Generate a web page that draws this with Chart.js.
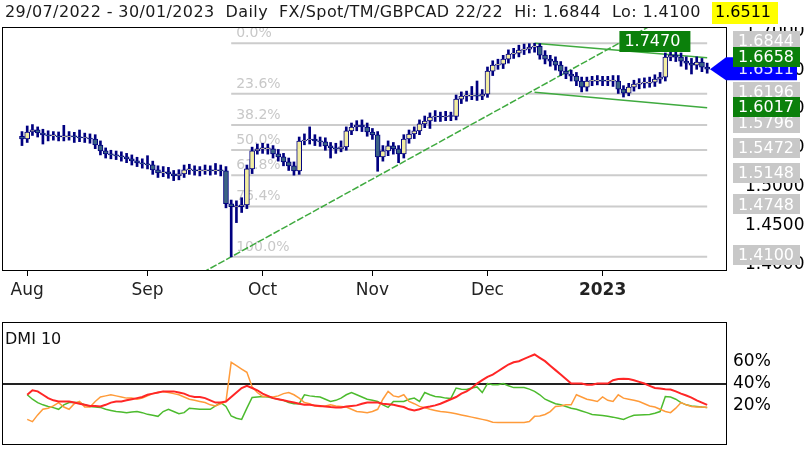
<!DOCTYPE html>
<html>
<head>
<meta charset="utf-8">
<script src="https://cdn.jsdelivr.net/npm/chart.js@4.4.1/dist/chart.umd.min.js"></script>
<style>
  body { margin: 0; background: #fff; width: 810px; height: 449px; overflow: hidden; position: relative; }
  #main { position: absolute; left: 0; top: 0; }
  #dmi { position: absolute; left: 0; top: 312px; }
</style>
</head>
<body>
<canvas id="main" width="810" height="312"></canvas>
<canvas id="dmi" width="810" height="137"></canvas>
<script>
// daily GBPCAD bars, 29/07/2022 .. 30/01/2023 (weekdays, index 0 = 29 Jul)
const opens = [
  1.5650,1.5615,1.5705,1.5731,1.5692,1.5667,1.5654,1.5654,1.5641,1.5641,
  1.5654,1.5641,1.5628,1.5628,1.5615,1.5538,1.5461,1.5423,1.5410,1.5397,
  1.5385,1.5359,1.5333,1.5308,1.5295,1.5282,1.5218,1.5179,1.5192,1.5167,
  1.5141,1.5167,1.5218,1.5218,1.5205,1.5205,1.5218,1.5205,1.5218,1.5205,
  1.4782,1.4744,1.4744,1.4769,1.5231,1.5461,1.5487,1.5487,1.5487,1.5423,
  1.5385,1.5320,1.5269,1.5205,1.5589,1.5602,1.5615,1.5589,1.5577,1.5526,
  1.5500,1.5487,1.5513,1.5718,1.5769,1.5795,1.5769,1.5705,1.5667,1.5385,
  1.5461,1.5526,1.5487,1.5423,1.5615,1.5679,1.5718,1.5808,1.5846,1.5897,
  1.5910,1.5897,1.5910,1.5904,1.6128,1.6166,1.6166,1.6179,1.6166,1.6192,
  1.6487,1.6564,1.6577,1.6641,1.6705,1.6718,1.6756,1.6769,1.6795,1.6807,
  1.6692,1.6641,1.6615,1.6564,1.6487,1.6448,1.6423,1.6359,1.6282,1.6359,
  1.6359,1.6372,1.6359,1.6359,1.6359,1.6256,1.6205,1.6282,1.6320,1.6333,
  1.6333,1.6346,1.6384,1.6410,1.6666,1.6692,1.6666,1.6615,1.6589,1.6564,
  1.6602,1.6538
];
const closes = [
  1.5615,1.5705,1.5731,1.5692,1.5667,1.5654,1.5654,1.5641,1.5641,1.5654,
  1.5641,1.5628,1.5628,1.5615,1.5538,1.5461,1.5423,1.5410,1.5397,1.5385,
  1.5359,1.5333,1.5308,1.5295,1.5282,1.5218,1.5179,1.5192,1.5167,1.5141,
  1.5167,1.5218,1.5218,1.5205,1.5205,1.5218,1.5205,1.5218,1.5205,1.4782,
  1.4744,1.4744,1.4769,1.5231,1.5461,1.5487,1.5487,1.5487,1.5423,1.5385,
  1.5320,1.5269,1.5205,1.5589,1.5602,1.5615,1.5589,1.5577,1.5526,1.5500,
  1.5487,1.5513,1.5718,1.5769,1.5795,1.5769,1.5705,1.5667,1.5385,1.5461,
  1.5526,1.5487,1.5423,1.5615,1.5679,1.5718,1.5808,1.5846,1.5897,1.5910,
  1.5897,1.5910,1.5904,1.6128,1.6166,1.6166,1.6179,1.6166,1.6192,1.6487,
  1.6564,1.6577,1.6641,1.6705,1.6718,1.6756,1.6769,1.6795,1.6807,1.6692,
  1.6641,1.6615,1.6564,1.6487,1.6448,1.6423,1.6359,1.6282,1.6359,1.6359,
  1.6372,1.6359,1.6359,1.6359,1.6256,1.6205,1.6282,1.6320,1.6333,1.6333,
  1.6346,1.6384,1.6410,1.6666,1.6692,1.6666,1.6615,1.6589,1.6564,1.6602,
  1.6538,1.6511
];
const highs = [
  1.5710,1.5782,1.5800,1.5770,1.5740,1.5720,1.5710,1.5705,1.5790,1.5710,
  1.5700,1.5730,1.5690,1.5680,1.5670,1.5590,1.5500,1.5470,1.5460,1.5450,
  1.5430,1.5410,1.5380,1.5360,1.5400,1.5330,1.5270,1.5260,1.5250,1.5210,
  1.5220,1.5280,1.5290,1.5270,1.5260,1.5280,1.5270,1.5300,1.5280,1.5260,
  1.4830,1.4820,1.4860,1.5280,1.5510,1.5550,1.5560,1.5550,1.5530,1.5480,
  1.5430,1.5370,1.5320,1.5640,1.5680,1.5770,1.5670,1.5640,1.5630,1.5570,
  1.5560,1.5590,1.5770,1.5820,1.5850,1.5860,1.5820,1.5750,1.5710,1.5530,
  1.5590,1.5570,1.5530,1.5670,1.5730,1.5770,1.5860,1.5910,1.5950,1.5980,
  1.5960,1.5970,1.5960,1.6180,1.6220,1.6230,1.6290,1.6360,1.6250,1.6540,
  1.6620,1.6640,1.6690,1.6760,1.6780,1.6820,1.6835,1.6840,1.6844,1.6840,
  1.6750,1.6690,1.6670,1.6610,1.6540,1.6500,1.6470,1.6410,1.6410,1.6420,
  1.6430,1.6420,1.6420,1.6430,1.6430,1.6300,1.6330,1.6370,1.6390,1.6400,
  1.6410,1.6440,1.6470,1.6720,1.6760,1.6750,1.6720,1.6670,1.6650,1.6670,
  1.6650,1.6590
];
const lows = [
  1.5530,1.5570,1.5660,1.5640,1.5550,1.5590,1.5600,1.5590,1.5590,1.5600,
  1.5570,1.5580,1.5570,1.5560,1.5490,1.5410,1.5370,1.5360,1.5350,1.5330,
  1.5310,1.5280,1.5260,1.5240,1.5230,1.5160,1.5120,1.5130,1.5110,1.5080,
  1.5090,1.5120,1.5160,1.5150,1.5140,1.5160,1.5150,1.5160,1.5140,1.4730,
  1.4100,1.4540,1.4670,1.4720,1.5170,1.5420,1.5430,1.5420,1.5370,1.5330,
  1.5270,1.5210,1.5150,1.5160,1.5540,1.5550,1.5530,1.5520,1.5470,1.5370,
  1.5430,1.5450,1.5470,1.5670,1.5720,1.5710,1.5650,1.5610,1.5200,1.5330,
  1.5400,1.5420,1.5310,1.5370,1.5560,1.5620,1.5670,1.5760,1.5750,1.5840,
  1.5840,1.5850,1.5850,1.5860,1.6070,1.6100,1.6120,1.6110,1.6120,1.6150,
  1.6430,1.6510,1.6520,1.6590,1.6650,1.6670,1.6700,1.6720,1.6730,1.6640,
  1.6580,1.6550,1.6500,1.6430,1.6390,1.6360,1.6300,1.6220,1.6230,1.6300,
  1.6310,1.6300,1.6300,1.6290,1.6200,1.6154,1.6170,1.6230,1.6260,1.6270,
  1.6280,1.6290,1.6330,1.6360,1.6620,1.6610,1.6550,1.6510,1.6450,1.6510,
  1.6480,1.6460
];

// DMI 10 lines (percent)
const dmiRed = [
  null,30,34,33,30,27,25,24,24,24, 23,22,21,20,20,19.6,21,23,24,24,
  25,26,27,28,30,31,32,33,33,33, 32,31,29,28,28,27,25,23,23,24,
  28,32,36,38,36,34,31,29,27,26, 25,24,23,22,21,21,20.5,20,19.5,19,
  18.7,18.7,19.5,20,20.5,22,23,23,23,22, 21.5,21,20,19,17,16,17,18.7,19.5,20.5,
  22,24,26,28,31,33,36,40,43,46, 48,51,54,57,59,60,62,64,66,63,
  60,56,52,48,44,40,40,40,39,39, 40,40,40,43,44,44.4,44,43,41.5,40,
  38,36,35.5,35,34.7,33,31,29.3,27.5,25, 23,21
];
const dmiOrange = [
  null,8,6,12,17,18,20,23,19,17, 22,24,19,19,24,28,29,30,29,28,
  27,27,26,27,29,31,32,33,32,31, 30,28,26,25,24,23,21,20,22,24,
  59,56,53,50,37,32,28.4,28.4,28,29, 31,32,30,27,23,22,20,19.6,20,21,
  20,19.6,19,17,15,14.5,14,15,17,26, 33,29,28,30,24,22,19.6,18.5,17,16,
  15,14.5,14,13,12,11,10,9,8,7, 5.5,5.3,5.3,5.3,5.3,5.3,5.3,6,10.7,11,
  12.4,15,19.6,20,21,21,30,28,26,25, 24,28,25,24,30,27,26,25,24,22,
  20,19,17,15,14,18,23,21,19.6,19, 19,18.7
];
const dmiGreen = [
  null,30,26,23,21,19.5,18.5,17,21,23, 23,23,21,19.6,19,18.7,17,16,15,14.5,
  14,14.5,15,14,12.5,11.6,10.7,15,17,15, 13,14,18,17.5,17,17,17,20,23,19.6,
  11,9,8,18,27.6,28,28.4,28,27,26, 25,23,22,22,30,29,28.4,28,26,24,
  25,27,30,32,30,28,26,25,24,21, 18.7,24,24,24,26,27,24,32,30,28.4,
  28,27,26.7,36,35,34.7,36,37,32,40, 39,39,40,38,36.4,36.4,36.4,35,33,30,
  26,24,22,21,19.5,18,17,15.5,14,12.4, 12,11.5,10.7,10,9,8,10,11.6,12,12.2,
  12.4,13.5,15,28.4,28,26,23,21,20,19.5, 19,18.7
];

// axes
const monthIdx = [1, 24, 46, 67, 89, 111];
const monthLabels = ['Aug', 'Sep', 'Oct', 'Nov', 'Dec', '2023'];
const priceTicks = [1.40, 1.45, 1.50, 1.55, 1.60, 1.65, 1.70];
const dmiTicks = [20, 40, 60];

// fibonacci retracement from the 26/09 low to the 14/12 high
const fibLevels = [1.6844, 1.6196, 1.5796, 1.5472, 1.5148, 1.4748, 1.4100];
const fibNames = ['0.0%', '23.6%', '38.2%', '50.0%', '61.8%', '76.4%', '100.0%'];
const fibFrom = 40, fibTo = 131;

// trend lines [x index, price]
const trendUp = [[30, 1.3730], [131, 1.7470]];
const channelTop = [[98, 1.6844], [131, 1.6658]];
const channelBottom = [[98, 1.6215], [131, 1.6017]];

const header = '29/07/2022 - 30/01/2023  Daily  FX/Spot/TM/GBPCAD 22/22  Hi: 1.6844  Lo: 1.4100';
const lastPrice = 1.6511;

const FONT = 'DejaVu Sans';
const xMin = -3.82, xMax = 134.6;
const NAVY = '#000080';
const GREEN_TAG = '#0b800b';

function box(ctx, x, yc, w, h, bg, fg, text) {
    ctx.fillStyle = bg;
    ctx.fillRect(x, Math.round(yc - h / 2), w, h);
    ctx.fillStyle = fg;
    ctx.textBaseline = 'middle';
    ctx.fillText(text, x + 5, yc + 1);
}

const mainDeco = {
    id: 'mainDeco',
    beforeDatasetsDraw(chart) {
        const ctx = chart.ctx, xs = chart.scales.x, ys = chart.scales.y;
        ctx.save();
        ctx.font = '14px ' + FONT;
        ctx.fillStyle = '#c8c8c8';
        ctx.textBaseline = 'alphabetic';
        fibLevels.forEach((lv, i) => {
            ctx.fillText(fibNames[i], xs.getPixelForValue(fibFrom) + 5, ys.getPixelForValue(lv) - 6);
        });
        ctx.restore();
    },
    afterDraw(chart) {
        const ctx = chart.ctx, a = chart.chartArea, xs = chart.scales.x, ys = chart.scales.y;
        ctx.save();
        // hide axis label overflow above / below the plot
        ctx.fillStyle = '#fff';
        ctx.fillRect(a.right + 1, 0, chart.width - a.right, a.top);
        ctx.fillRect(a.right + 1, a.bottom + 1, chart.width - a.right, chart.height - a.bottom);

        ctx.strokeStyle = '#000';
        ctx.lineWidth = 1;
        ctx.strokeRect(a.left + 0.5, a.top + 0.5, a.right - a.left, a.bottom - a.top);

        ctx.font = '16px ' + FONT;
        // fib price tags
        fibLevels.forEach(lv => {
            box(ctx, a.right + 7, ys.getPixelForValue(lv) - 2, 67, 20, '#c8c8c8', '#fff', lv.toFixed(4));
        });
        // last price arrow
        const yc = ys.getPixelForValue(lastPrice);
        ctx.fillStyle = '#0000ff';
        ctx.beginPath();
        ctx.moveTo(a.right - 16, yc);
        ctx.lineTo(a.right, yc - 12);
        ctx.lineTo(a.right + 71, yc - 12);
        ctx.lineTo(a.right + 71, yc + 11);
        ctx.lineTo(a.right, yc + 11);
        ctx.closePath();
        ctx.fill();
        ctx.fillStyle = '#e8e8ff';
        ctx.textBaseline = 'middle';
        ctx.fillText(lastPrice.toFixed(4), a.right + 12, yc + 1);
        // channel tags
        [channelTop, channelBottom].forEach(ln => {
            const p = ln[1][1];
            box(ctx, a.right + 7, ys.getPixelForValue(p) - 1, 67, 20, GREEN_TAG, '#fff', p.toFixed(4));
        });
        // rising trend line tag, where the line leaves the top of the plot
        const x0 = xs.getPixelForValue(trendUp[0][0]), y0 = ys.getPixelForValue(trendUp[0][1]);
        const x1 = xs.getPixelForValue(trendUp[1][0]), y1 = ys.getPixelForValue(trendUp[1][1]);
        const xc = x0 + (a.top - y0) / (y1 - y0) * (x1 - x0);
        box(ctx, xc - 29, a.top + 14, 71, 21, GREEN_TAG, '#fff', trendUp[1][1].toFixed(4));

        // header line
        ctx.fillStyle = '#1a1a1a';
        ctx.textBaseline = 'middle';
        ctx.font = '16px ' + FONT;
        ctx.letterSpacing = '0.4px';
        ctx.fillText(header, 5, 13);
        ctx.fillStyle = '#ffff00';
        ctx.fillRect(712, 2, 66, 22);
        ctx.fillStyle = '#000';
        ctx.letterSpacing = '0px';
        ctx.fillText(lastPrice.toFixed(4), 715, 13);
        ctx.restore();
    }
};

const bodies = opens.map((o, i) => ({ x: i, y: [o, closes[i]] }));
const wicks = lows.map((l, i) => ({ x: i, y: [l, highs[i]] }));
const bodyColors = opens.map((o, i) => closes[i] >= o ? '#f3eea2' : '#3b6384');

function segment(pts) {
    return pts.map(p => ({ x: p[0], y: p[1] }));
}

const fibSets = fibLevels.map(lv => ({
    type: 'line',
    data: [{ x: fibFrom, y: lv }, { x: fibTo, y: lv }],
    borderColor: '#cccccc',
    borderWidth: 2,
    pointRadius: 0,
    order: 4
}));

const trendSets = [trendUp, channelTop, channelBottom].map((ln, k) => ({
    type: 'line',
    data: segment(ln),
    borderColor: '#3faa3f',
    borderWidth: 1.5,
    borderDash: k === 0 ? [7, 2] : [],
    pointRadius: 0,
    order: 3
}));

new Chart(document.getElementById('main'), {
    type: 'bar',
    data: {
        datasets: [
            {
                data: bodies,
                backgroundColor: bodyColors,
                borderColor: NAVY,
                borderWidth: 1,
                borderSkipped: false,
                barThickness: 5,
                minBarLength: 1,
                grouped: false,
                order: 0
            },
            {
                data: wicks,
                backgroundColor: NAVY,
                borderWidth: 0,
                barThickness: 2,
                grouped: false,
                order: 1
            }
        ].concat(trendSets, fibSets)
    },
    options: {
        responsive: false,
        animation: false,
        layout: { padding: { left: 2, top: 27, right: 0, bottom: 0 } },
        plugins: { legend: { display: false }, tooltip: { enabled: false } },
        scales: {
            x: {
                type: 'linear',
                min: xMin,
                max: xMax,
                offset: false,
                afterBuildTicks: axis => { axis.ticks = monthIdx.map(v => ({ value: v })); },
                afterFit: axis => { axis.height = 42; },
                grid: { offset: false, drawOnChartArea: false, drawTicks: true, tickLength: 6, color: '#000' },
                border: { display: false },
                ticks: {
                    autoSkip: false,
                    maxRotation: 0,
                    padding: 4,
                    color: '#222',
                    font: c => ({ family: FONT, size: 17, weight: monthLabels[c.index] === '2023' ? 'bold' : 'normal' }),
                    callback: (v, i) => monthLabels[i]
                }
            },
            y: {
                position: 'right',
                min: 1.3931,
                max: 1.7054,
                afterBuildTicks: axis => { axis.ticks = priceTicks.map(v => ({ value: v })); },
                afterFit: axis => { axis.width = 84; },
                grid: { display: false },
                border: { display: false },
                ticks: {
                    padding: 11,
                    color: '#000',
                    font: { family: FONT, size: 17 },
                    callback: v => v.toFixed(4)
                }
            }
        }
    },
    plugins: [mainDeco]
});

const dmiDeco = {
    id: 'dmiDeco',
    afterDraw(chart) {
        const ctx = chart.ctx, a = chart.chartArea;
        ctx.save();
        ctx.strokeStyle = '#000';
        ctx.lineWidth = 1;
        ctx.strokeRect(a.left + 0.5, a.top + 0.5, a.right - a.left, a.bottom - a.top);
        ctx.fillStyle = '#111';
        ctx.font = '16px ' + FONT;
        ctx.textBaseline = 'middle';
        ctx.fillText('DMI 10', a.left + 3, a.top + 18);
        ctx.restore();
    }
};

function dmiPoints(arr) {
    return arr.map((v, i) => ({ x: i, y: v }));
}

new Chart(document.getElementById('dmi'), {
    type: 'line',
    data: {
        datasets: [
            { data: dmiPoints(dmiRed), borderColor: '#ff2626', borderWidth: 2 },
            { data: dmiPoints(dmiOrange), borderColor: '#ff9b3a', borderWidth: 1.5 },
            { data: dmiPoints(dmiGreen), borderColor: '#4cbb2e', borderWidth: 1.5 }
        ]
    },
    options: {
        responsive: false,
        animation: false,
        elements: { point: { radius: 0 }, line: { tension: 0 } },
        layout: { padding: { left: 2, top: 10, right: 0, bottom: 5 } },
        plugins: { legend: { display: false }, tooltip: { enabled: false } },
        scales: {
            x: { type: 'linear', min: xMin, max: xMax, display: false },
            y: {
                position: 'right',
                min: -14,
                max: 95,
                afterBuildTicks: axis => { axis.ticks = dmiTicks.map(v => ({ value: v })); },
                afterFit: axis => { axis.width = 84; axis.paddingTop = 0; axis.paddingBottom = 0; },
                grid: {
                    drawTicks: false,
                    lineWidth: 2,
                    color: c => (c.tick && c.tick.value === 40) ? '#222' : 'rgba(0,0,0,0)'
                },
                border: { display: false },
                ticks: {
                    padding: 7,
                    color: '#000',
                    font: { family: FONT, size: 17 },
                    callback: v => v + '%'
                }
            }
        }
    },
    plugins: [dmiDeco]
});
</script>
</body>
</html>
